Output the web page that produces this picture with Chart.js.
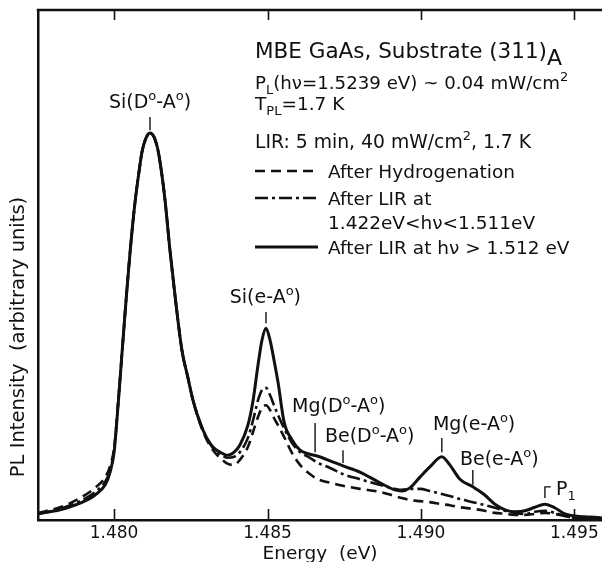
<!DOCTYPE html>
<html><head><meta charset="utf-8">
<script src="https://cdn.jsdelivr.net/npm/chart.js@4.4.1/dist/chart.umd.min.js"></script>
<style>html,body{margin:0;padding:0;background:#fff;overflow:hidden}#wrap{width:602px;height:562px;position:relative}</style>
</head><body><div id="wrap"><canvas id="c" width="602" height="562"></canvas></div>
<script>
// ---- data (photon energy in eV, PL intensity in arbitrary units) ----
const energy = [1.47752,1.47824,1.47889,1.47938,1.47971,1.47987,1.48000,1.48013,1.48026,1.48039,1.48052,1.48068,1.48081,1.48091,1.48104,1.48117,1.48130,1.48143,1.48156,1.48166,1.48182,1.48202,1.48221,1.48241,1.48257,1.48290,1.48322,1.48345,1.48371,1.48391,1.48410,1.48436,1.48453,1.48469,1.48482,1.48495,1.48508,1.48521,1.48534,1.48554,1.48580,1.48606,1.48638,1.48664,1.48704,1.48746,1.48801,1.48866,1.48915,1.48938,1.48964,1.48997,1.49029,1.49068,1.49094,1.49127,1.49169,1.49208,1.49241,1.49274,1.49306,1.49339,1.49371,1.49404,1.49436,1.49469,1.49502,1.49550,1.49590];
const afterHydrogenation = [1.4,2.5,4.3,6.3,8.4,10.6,14.1,22.9,32.9,43.1,52.5,62.2,68.2,72.2,74.9,75.9,75.1,72.5,67.6,62.7,52.9,42.2,33.3,27.8,23.5,17.3,13.7,12.2,11.0,10.8,11.8,14.3,17.3,20.2,22.0,22.5,21.6,20.0,18.6,16.3,13.1,10.8,9.0,8.0,7.3,6.7,6.1,5.5,4.7,4.3,3.9,3.7,3.5,3.1,2.9,2.5,2.2,1.8,1.4,1.2,1.0,1.0,1.2,1.4,1.2,0.8,0.4,0.2,0.2];
const afterLIRBelowGap = [1.2,2.2,3.7,5.5,7.5,9.8,13.7,22.7,32.9,43.1,52.5,62.2,68.2,72.2,74.9,75.9,75.1,72.5,67.6,62.7,52.9,42.2,33.3,27.8,23.5,17.6,14.1,12.9,12.2,12.4,13.3,16.1,19.6,23.5,25.5,25.9,24.5,22.5,20.6,18.0,15.1,13.3,12.2,11.2,10.2,9.0,8.0,6.9,6.1,5.9,6.1,6.1,5.7,5.1,4.7,4.1,3.5,2.9,2.4,1.8,1.4,1.2,1.6,1.8,1.4,0.8,0.4,0.2,0.2];
const afterLIRAboveGap = [1.2,2.0,3.3,4.9,6.9,9.4,13.3,22.5,32.9,43.1,52.5,62.2,68.2,72.2,74.9,75.9,75.1,72.5,67.6,62.7,52.9,42.2,33.3,27.8,23.5,17.6,14.3,13.3,12.7,13.3,14.7,18.6,23.5,30.4,35.3,37.6,35.3,31.4,27.1,19.2,15.7,13.7,12.9,12.5,11.6,10.6,9.4,7.3,5.9,5.7,6.3,8.4,10.4,12.4,10.8,8.0,6.5,4.9,3.1,2.0,1.6,1.8,2.5,3.1,2.4,1.2,0.8,0.6,0.4];
const xTickValues = [1.480,1.485,1.490,1.495];
const seriesNames = ['After Hydrogenation','After LIR at 1.422eV<hν<1.511eV','After LIR at hν > 1.512 eV'];
const peakNames = ['Si(D°-A°)','Si(e-A°)','Mg(D°-A°)','Be(D°-A°)','Mg(e-A°)','Be(e-A°)','P1'];
const xRange = [1.47752, 1.49590];
const yRange = [0, 100];

// ---- styling / layout ----
const FONT = '"DejaVu Sans", sans-serif';
const INK = '#111';
const seriesStyles = [
  {dash:[10,6], width:2.6},
  {dash:[13,4,3,4], width:2.6},
  {dash:[], width:3}
];
// annotation placements (energy, intensity units)
const peakMarks = [
  {tickE:1.48117, tickV:[76.4,79.0], textE:1.48117, textV:80.8, align:'center'},
  {tickE:1.48495, tickV:[38.6,40.8], textE:1.48493, textV:42.5, align:'center'},
  {tickE:1.48655, tickV:[13.3,19.0], textE:1.48580, textV:21.2, align:'left'},
  {tickE:1.48746, tickV:[11.2,13.7], textE:1.48687, textV:15.3, align:'left'},
  {tickE:1.49068, tickV:[13.3,16.1], textE:1.49039, textV:17.6, align:'left'},
  {tickE:1.49169, tickV:[6.9,9.8], textE:1.49127, textV:10.8, align:'left'}
];
const p1Mark = {e0:1.49404, e1:1.49423, v0:4.3, v1:6.5, textE:1.49440, textV:4.9};

function richParts(s){
  const out=[]; let buf='';
  for (const ch of s){
    if (ch==='°'){ if(buf){out.push([buf,'n']);buf='';} out.push(['o','sup']); }
    else buf+=ch;
  }
  if(buf) out.push([buf,'n']);
  return out;
}
function drawRich(ctx, x, y, parts, size, align){
  const fontOf = k => (k==='sub'||k==='sup') ? Math.round(size*0.7)+'px '+FONT : (k==='big' ? Math.round(size*1.02)+'px '+FONT : size+'px '+FONT);
  const offOf = k => k==='sub' ? size*0.28 : (k==='sup' ? -size*0.42 : (k==='big' ? size*0.33 : 0));
  let total=0;
  for(const p of parts){ ctx.font=fontOf(p[1]); total+=ctx.measureText(p[0]).width; }
  let cx = align==='center' ? x-total/2 : (align==='right' ? x-total : x);
  ctx.textAlign='left'; ctx.textBaseline='alphabetic';
  for(const p of parts){ ctx.font=fontOf(p[1]); ctx.fillText(p[0], cx, y+offOf(p[1])); cx+=ctx.measureText(p[0]).width; }
}

const decor = {
  id:'decor',
  afterDraw(chart){
    const {ctx, chartArea:a, scales:{x,y}} = chart;
    ctx.save();
    ctx.strokeStyle=INK; ctx.fillStyle=INK; ctx.lineCap='butt';
    ctx.lineWidth=2.5;
    ctx.beginPath(); ctx.moveTo(a.left-1.25, a.top); ctx.lineTo(a.right, a.top); ctx.stroke();
    ctx.lineWidth=1.6;
    for(const v of xTickValues){
      const px=Math.round(x.getPixelForValue(v))+0.5;
      ctx.beginPath(); ctx.moveTo(px,a.bottom); ctx.lineTo(px,a.bottom-11); ctx.stroke();
      ctx.beginPath(); ctx.moveTo(px,a.top); ctx.lineTo(px,a.top+10); ctx.stroke();
    }
    ctx.save();
    ctx.translate(19, 337); ctx.rotate(-Math.PI/2);
    ctx.font='19.5px '+FONT; ctx.textAlign='center'; ctx.textBaseline='middle';
    ctx.fillText('PL Intensity  (arbitrary units)',0,0);
    ctx.restore();
    ctx.lineWidth=1.4;
    peakMarks.forEach((m,i)=>{
      const px=x.getPixelForValue(m.tickE);
      ctx.beginPath(); ctx.moveTo(px,y.getPixelForValue(m.tickV[0])); ctx.lineTo(px,y.getPixelForValue(m.tickV[1])); ctx.stroke();
      drawRich(ctx, x.getPixelForValue(m.textE), y.getPixelForValue(m.textV), richParts(peakNames[i]), 19, m.align);
    });
    const bx=x.getPixelForValue(p1Mark.e0), bx1=x.getPixelForValue(p1Mark.e1);
    const by0=y.getPixelForValue(p1Mark.v0), by1=y.getPixelForValue(p1Mark.v1);
    ctx.beginPath(); ctx.moveTo(bx,by0); ctx.lineTo(bx,by1); ctx.lineTo(bx1,by1); ctx.stroke();
    drawRich(ctx, x.getPixelForValue(p1Mark.textE), y.getPixelForValue(p1Mark.textV), [['P','n'],['1','sub']], 19, 'left');

    const L=255, TX=328;
    drawRich(ctx, L, 58, [['MBE GaAs, Substrate (311)','n'],['A','big']], 21.5, 'left');
    drawRich(ctx, L, 89, [['P','n'],['L','sub'],['(hν=1.5239 eV) ~ 0.04 mW/cm','n'],['2','sup']], 18.2, 'left');
    drawRich(ctx, L, 110, [['T','n'],['PL','sub'],['=1.7 K','n']], 18.5, 'left');
    drawRich(ctx, L, 148, [['LIR: 5 min, 40 mW/cm','n'],['2','sup'],[', 1.7 K','n']], 18.8, 'left');
    const rows=[{y:171, s:0, lines:[seriesNames[0]]},{y:198, s:1, lines:['After LIR at','1.422eV<hν<1.511eV']},{y:247, s:2, lines:[seriesNames[2]]}];
    for(const r of rows){
      const st=seriesStyles[r.s];
      ctx.lineWidth=st.width; ctx.setLineDash(st.dash);
      ctx.beginPath(); ctx.moveTo(L,r.y); ctx.lineTo(318,r.y); ctx.stroke();
      ctx.setLineDash([]);
      r.lines.forEach((t,k)=>{ drawRich(ctx, TX, r.y+7+k*24, [[t,'n']], 18.5, 'left'); });
    }
    ctx.restore();
  }
};

const mk = (arr)=> energy.map((e,i)=>({x:e,y:arr[i]}));
const seriesData=[afterHydrogenation, afterLIRBelowGap, afterLIRAboveGap];
new Chart(document.getElementById('c'), {
  type:'line',
  data:{datasets: seriesData.map((arr,i)=>({
    label: seriesNames[i], data: mk(arr), borderColor:INK, borderWidth:seriesStyles[i].width,
    borderDash:seriesStyles[i].dash, pointRadius:0, fill:false, cubicInterpolationMode:'monotone', borderJoinStyle:'round'
  }))},
  options:{
    responsive:false, animation:false, devicePixelRatio:1,
    layout:{padding:{top:10,right:0,left:0,bottom:0}},
    plugins:{legend:{display:false}, tooltip:{enabled:false}},
    scales:{
      x:{type:'linear', min:xRange[0], max:xRange[1],
        afterBuildTicks:s=>{ s.ticks = xTickValues.map(v=>({value:v})); },
        ticks:{callback:v=>Number(v).toFixed(3), color:INK, font:{family:FONT,size:17}, padding:3, maxRotation:0, autoSkip:false},
        grid:{display:false, drawTicks:false},
        border:{display:true, color:INK, width:2.5},
        title:{display:true, text:'Energy  (eV)', color:INK, font:{family:FONT,size:18.5}, padding:{top:0,bottom:-3}},
        afterFit:s=>{ s.height=42; }
      },
      y:{min:yRange[0], max:yRange[1], display:true,
        ticks:{display:false}, grid:{display:false, drawTicks:false},
        border:{display:true, color:INK, width:2.5},
        afterFit:s=>{ s.width=38; }
      }
    }
  },
  plugins:[decor]
});
</script></body></html>
